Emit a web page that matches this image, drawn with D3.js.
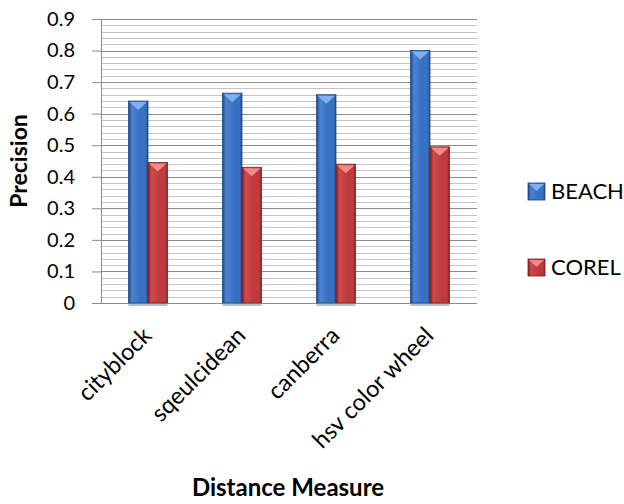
<!DOCTYPE html>
<html lang="en">
<head>
<meta charset="UTF-8">
<title>Precision by distance measure</title>
<style>
  body { margin: 0; background: #fff; }
  svg { display: block; font-family: Lato, "Open Sans", sans-serif; }
</style>
</head>
<body>
<svg width="624" height="504"></svg>
<script src="https://d3js.org/d3.v7.min.js"></script>
<script>
// Data
const categories = ["cityblock", "sqeulcidean", "canberra", "hsv color wheel"];
const seriesNames = ["BEACH", "COREL"];
const beach = [0.64, 0.665, 0.66, 0.80];
const corel = [0.445, 0.43, 0.44, 0.495];
const yTicks = [0, 0.1, 0.2, 0.3, 0.4, 0.5, 0.6, 0.7, 0.8, 0.9];

const margin = {top: 19, right: 147, bottom: 201, left: 101},
    width = 624 - margin.left - margin.right,
    height = 504 - margin.top - margin.bottom;

const svgRoot = d3.select("svg");
const defs = svgRoot.append("defs");

// bevel-ish gradients for the bars
const palettes = {
  BEACH: {dark: "#1f4a86", mid: "#3a70c2", light: "#4a82d4", top: "#7fb0f0"},
  COREL: {dark: "#7e2123", mid: "#c0393c", light: "#cf4a4c", top: "#ee8a8a"}
};
seriesNames.forEach(function(s) {
  const p = palettes[s];
  const g = defs.append("linearGradient").attr("id", "grad-" + s)
      .attr("x1", "0%").attr("x2", "100%").attr("y1", "0%").attr("y2", "0%");
  g.append("stop").attr("offset", "0%").attr("stop-color", p.dark);
  g.append("stop").attr("offset", "18%").attr("stop-color", p.light);
  g.append("stop").attr("offset", "60%").attr("stop-color", p.mid);
  g.append("stop").attr("offset", "88%").attr("stop-color", p.mid);
  g.append("stop").attr("offset", "100%").attr("stop-color", p.dark);
});

const svg = svgRoot.append("g")
    .attr("transform", "translate(" + margin.left + "," + margin.top + ")");

const y = d3.scaleLinear().domain([0, 0.9]).range([height, 0]);
const x0 = d3.scaleBand().domain(categories).range([0, width]);
const x1 = d3.scaleBand().domain(seriesNames).range([0, 39]);

// minor gridlines every 0.02
const minor = d3.range(0, 0.9001, 0.02);
svg.append("g").selectAll("line").data(minor).enter().append("line")
    .attr("x1", 0).attr("x2", width)
    .attr("y1", function(d) { return Math.round(y(d)) + 0.5; })
    .attr("y2", function(d) { return Math.round(y(d)) + 0.5; })
    .attr("stroke", "#c4c4c4").attr("stroke-width", 1);

// major gridlines
svg.append("g").selectAll("line").data(yTicks).enter().append("line")
    .attr("x1", 0).attr("x2", width)
    .attr("y1", function(d) { return Math.round(y(d)) + 0.5; })
    .attr("y2", function(d) { return Math.round(y(d)) + 0.5; })
    .attr("stroke", "#8c8c8c").attr("stroke-width", 1.2);

// y axis
const yAxis = svg.append("g")
    .call(d3.axisLeft(y).tickValues(yTicks).tickSize(9).tickPadding(17)
      .tickFormat(function(d) { return d === 0 ? "0" : d3.format(".1f")(d); }));
yAxis.select(".domain").attr("stroke", "#8c8c8c");
yAxis.selectAll(".tick line").attr("stroke", "#8c8c8c");
yAxis.selectAll("text").attr("font-size", 20).attr("fill", "#000")
    .style("font-family", "Lato, 'Open Sans', sans-serif");

// bars
const rows = categories.map(function(c, i) {
  return {cat: c, vals: [{s: "BEACH", v: beach[i]}, {s: "COREL", v: corel[i]}]};
});
const groups = svg.selectAll(".grp").data(rows).enter().append("g")
    .attr("transform", function(d) {
      return "translate(" + (x0(d.cat) + x0.bandwidth() / 2 - 19.5) + ",0)";
    });

// soft base shadow under each pair
groups.append("rect")
    .attr("x", 0).attr("width", 39)
    .attr("y", height).attr("height", 3)
    .attr("fill", "#9aa3ad").attr("opacity", 0.7);

const bars = groups.selectAll(".bar").data(function(d) { return d.vals; }).enter().append("g");
bars.append("rect")
    .attr("x", function(d) { return x1(d.s); })
    .attr("width", x1.bandwidth())
    .attr("y", function(d) { return y(d.v); })
    .attr("height", function(d) { return height - y(d.v); })
    .attr("fill", function(d) { return "url(#grad-" + d.s + ")"; })
    .attr("stroke", function(d) { return palettes[d.s].dark; })
    .attr("stroke-width", 0.8);
// top bevel triangle
bars.append("path")
    .attr("d", function(d) {
      const xl = x1(d.s) + 1, xr = x1(d.s) + x1.bandwidth() - 1, yt = y(d.v) + 1;
      return "M" + xl + "," + yt + "L" + xr + "," + yt + "L" + ((xl + xr) / 2) + "," + (yt + 8) + "Z";
    })
    .attr("fill", function(d) { return palettes[d.s].top; });

// x labels rotated
svg.append("g").selectAll("text").data(categories).enter().append("text")
    .attr("transform", function(d) {
      return "translate(" + (x0(d) + x0.bandwidth() / 2 + 5) + "," + (height + 34) + ") rotate(-45)";
    })
    .attr("text-anchor", "end")
    .attr("font-size", 23.5)
    .text(function(d) { return d; });

// axis titles
svgRoot.append("text")
    .attr("x", 288).attr("y", 496)
    .attr("text-anchor", "middle")
    .attr("font-size", 24).attr("font-weight", "bold")
    .text("Distance Measure");
svgRoot.append("text")
    .attr("transform", "translate(27,161) rotate(-90)")
    .attr("text-anchor", "middle")
    .attr("font-size", 23).attr("font-weight", "bold")
    .text("Precision");

// legend
const legend = svgRoot.selectAll(".legend").data(seriesNames).enter().append("g")
    .attr("transform", function(d, i) { return "translate(528," + (183 + 76 * i) + ")"; });
legend.append("rect")
    .attr("width", 17).attr("height", 17)
    .attr("fill", function(d) { return "url(#grad-" + d + ")"; })
    .attr("stroke", function(d) { return palettes[d].dark; })
    .attr("stroke-width", 0.8);
legend.append("path")
    .attr("d", "M1,1L16,1L8.5,8Z")
    .attr("fill", function(d) { return palettes[d].top; });
legend.append("text")
    .attr("x", 23).attr("y", 16)
    .attr("font-size", 22)
    .text(function(d) { return d; });
</script>
</body>
</html>
